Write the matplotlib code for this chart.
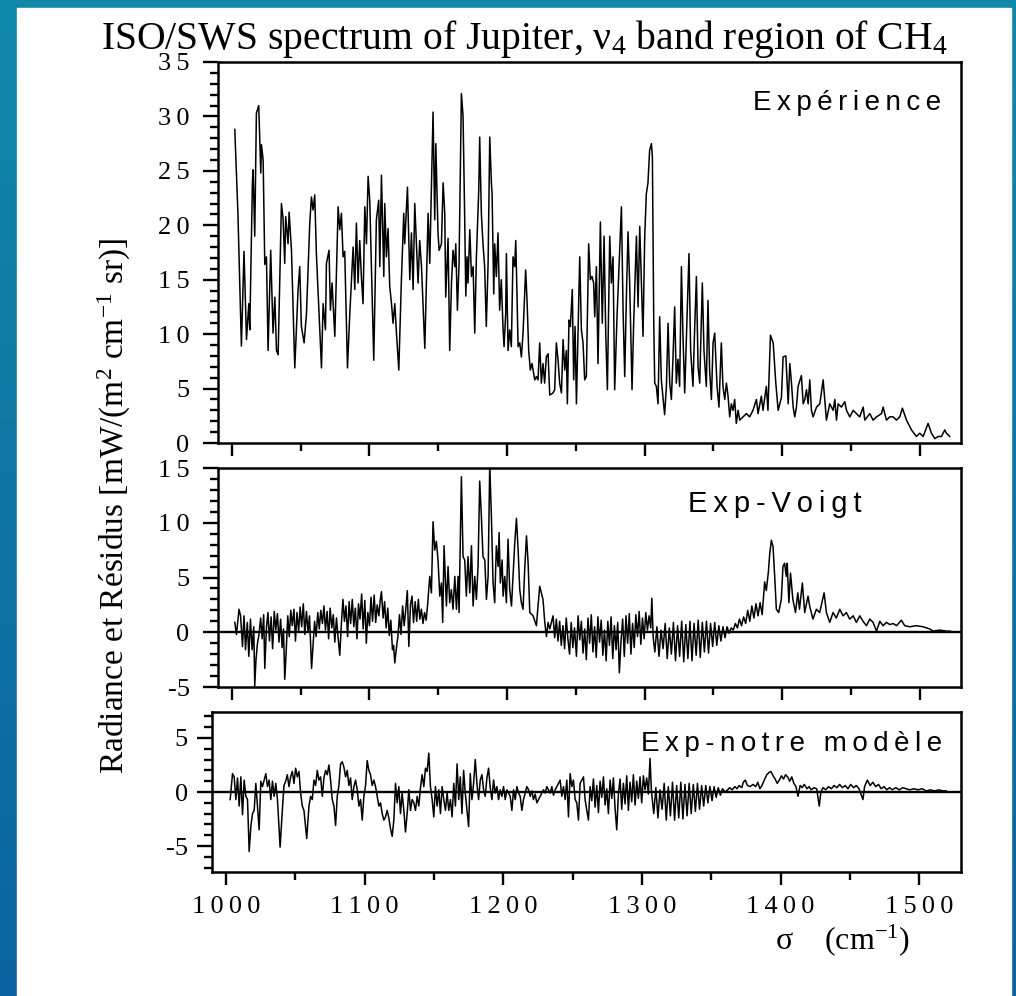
import numpy as np
import matplotlib
matplotlib.use("Agg")
import matplotlib.pyplot as plt
from matplotlib.patches import Rectangle
from matplotlib.colors import LinearSegmentedColormap
from matplotlib.ticker import MultipleLocator, FixedLocator, FixedFormatter

plt.rcParams['font.family'] = ['Liberation Serif', 'DejaVu Serif']
plt.rcParams['mathtext.fontset'] = 'custom'
plt.rcParams['mathtext.rm'] = 'Liberation Serif'
plt.rcParams['mathtext.default'] = 'regular'

## donnees : (sigma en cm-1, valeur)
experience = [
    (1002.2, 28.8), (1004.5, 21.0), (1007.0, 8.9), (1008.9, 17.6), (1010.7, 9.5), (1012.4, 12.8),
    (1013.1, 10.4), (1015.0, 23.9), (1015.5, 25.1), (1016.7, 19.0), (1017.9, 30.3), (1019.6, 31.0),
    (1021.1, 24.8), (1021.6, 27.4), (1022.8, 26.0), (1024.0, 16.4), (1025.2, 17.1), (1026.4, 8.5),
    (1028.3, 17.7), (1030.0, 10.1), (1031.3, 13.4), (1032.5, 8.5), (1033.7, 8.1), (1036.1, 22.0),
    (1037.3, 20.6), (1038.5, 16.5), (1039.2, 20.8), (1040.9, 18.3), (1041.7, 21.2), (1043.4, 17.7),
    (1045.8, 6.9), (1048.2, 14.1), (1049.4, 16.2), (1050.6, 10.7), (1052.6, 9.2), (1054.3, 11.9),
    (1056.7, 20.2), (1057.9, 22.6), (1059.1, 21.4), (1060.3, 22.8), (1061.5, 17.4), (1065.2, 6.9),
    (1066.4, 12.8), (1068.1, 10.4), (1068.8, 16.5), (1070.7, 17.7), (1071.7, 12.2), (1072.9, 14.7),
    (1074.9, 9.8), (1077.3, 21.7), (1078.5, 19.6), (1079.7, 21.1), (1080.9, 17.1), (1082.1, 17.6),
    (1084.1, 6.9), (1085.8, 11.9), (1088.2, 18.0), (1089.4, 14.1), (1090.6, 20.2), (1091.8, 14.7),
    (1093.0, 18.6), (1094.2, 15.3), (1095.4, 12.8), (1096.7, 21.7), (1097.9, 18.3), (1099.1, 24.5),
    (1100.3, 22.3), (1103.2, 7.6), (1105.1, 20.5), (1106.8, 22.3), (1107.6, 16.2), (1108.8, 24.6),
    (1110.5, 15.3), (1111.2, 22.0), (1112.4, 17.1), (1113.6, 19.7), (1114.8, 14.4), (1116.1, 12.8),
    (1117.2, 11.0), (1118.5, 12.8), (1119.7, 10.1), (1121.4, 6.7), (1123.3, 15.0), (1125.0, 21.1),
    (1125.7, 18.3), (1127.7, 23.5), (1129.4, 15.0), (1130.6, 19.3), (1131.8, 14.1), (1133.0, 22.0),
    (1134.2, 18.3), (1135.4, 14.7), (1136.6, 18.6), (1137.9, 16.2), (1140.3, 8.7), (1142.7, 21.1),
    (1143.9, 16.5), (1146.3, 30.4), (1147.5, 20.5), (1148.3, 27.5), (1149.9, 19.3), (1150.7, 17.7),
    (1152.4, 18.3), (1153.6, 23.9), (1154.8, 21.1), (1155.5, 13.4), (1157.2, 18.8), (1158.4, 8.5),
    (1159.7, 14.7), (1160.8, 17.7), (1162.1, 16.2), (1162.8, 18.3), (1164.0, 12.2), (1165.2, 16.5),
    (1166.9, 32.1), (1168.1, 30.0), (1169.3, 20.6), (1170.1, 13.5), (1171.0, 17.1), (1171.7, 14.7),
    (1173.0, 19.6), (1174.2, 15.3), (1175.4, 16.2), (1176.6, 10.1), (1177.8, 17.1), (1179.5, 23.2),
    (1180.2, 28.1), (1181.4, 21.1), (1182.6, 18.3), (1183.8, 16.2), (1185.0, 10.7), (1186.3, 16.5),
    (1187.5, 28.1), (1188.7, 23.9), (1189.2, 22.9), (1190.4, 13.7), (1191.1, 18.3), (1192.3, 15.3),
    (1193.5, 19.3), (1194.7, 12.2), (1195.9, 15.0), (1197.2, 10.4), (1197.9, 8.85), (1199.1, 11.9),
    (1199.6, 17.4), (1200.8, 8.5), (1202.0, 10.4), (1203.2, 8.85), (1204.4, 17.1), (1205.6, 16.2),
    (1206.4, 18.6), (1207.3, 13.7), (1208.1, 8.85), (1209.3, 9.2), (1210.5, 7.9), (1211.7, 10.1),
    (1213.6, 15.9), (1214.6, 13.1), (1215.8, 8.5), (1217.0, 6.7), (1218.2, 7.3), (1220.2, 5.8),
    (1221.4, 6.1), (1222.6, 5.8), (1223.8, 9.2), (1225.0, 5.5), (1226.2, 7.3), (1227.4, 5.5),
    (1228.6, 7.9), (1229.9, 8.2), (1231.1, 4.4), (1233.5, 4.6), (1234.7, 4.9), (1235.9, 9.2),
    (1237.1, 7.7), (1238.3, 5.5), (1239.6, 4.6), (1240.8, 9.5), (1242.0, 6.7), (1243.2, 8.5),
    (1243.9, 3.6), (1245.1, 11.3), (1246.1, 10.7), (1247.5, 14.1), (1248.5, 5.8), (1249.5, 10.7),
    (1250.5, 3.6), (1251.7, 10.4), (1252.9, 17.1), (1254.1, 10.4), (1255.3, 9.2), (1256.5, 5.8),
    (1257.7, 6.1), (1259.4, 18.3), (1260.6, 15.0), (1261.8, 15.3), (1263.0, 14.7), (1263.8, 11.6),
    (1265.0, 16.2), (1266.2, 7.3), (1267.9, 20.3), (1269.3, 11.0), (1270.6, 19.0), (1271.8, 10.1),
    (1273.0, 4.9), (1274.7, 19.0), (1275.9, 14.7), (1277.1, 17.1), (1278.3, 4.9), (1280.0, 11.6),
    (1281.2, 15.3), (1283.2, 21.7), (1284.4, 12.2), (1285.6, 6.1), (1286.8, 13.4), (1288.0, 19.4),
    (1289.2, 14.7), (1290.9, 4.9), (1292.1, 11.0), (1294.1, 19.0), (1295.3, 12.5), (1296.5, 19.9),
    (1297.7, 14.7), (1298.9, 9.8), (1300.1, 18.8), (1301.3, 22.9), (1302.5, 23.9), (1303.7, 26.9),
    (1305.0, 27.5), (1305.7, 26.3), (1306.7, 11.0), (1307.4, 5.5), (1308.6, 5.2), (1309.8, 3.6),
    (1311.0, 11.6), (1312.2, 5.8), (1313.4, 4.2), (1314.6, 2.6), (1315.9, 5.2), (1317.1, 11.0),
    (1318.3, 5.5), (1319.5, 4.0), (1320.7, 7.9), (1321.9, 12.5), (1323.1, 5.5), (1324.3, 7.7),
    (1325.5, 5.2), (1326.8, 16.2), (1328.0, 9.5), (1329.2, 4.6), (1330.4, 9.5), (1332.3, 17.4),
    (1333.5, 8.5), (1335.2, 5.2), (1336.4, 10.4), (1337.7, 15.3), (1338.9, 7.0), (1340.1, 5.5),
    (1342.0, 14.7), (1343.2, 8.5), (1344.9, 5.2), (1346.1, 13.1), (1347.3, 6.7), (1348.6, 4.0),
    (1349.8, 9.2), (1351.0, 10.1), (1352.7, 5.2), (1354.1, 3.3), (1355.8, 9.2), (1357.0, 5.2),
    (1358.3, 4.0), (1359.5, 5.5), (1360.7, 4.3), (1361.9, 2.4), (1363.1, 3.6), (1364.3, 3.0),
    (1365.5, 4.0), (1366.7, 1.8), (1368.0, 3.0), (1369.2, 2.1), (1371.6, 2.4), (1374.0, 2.7),
    (1376.4, 2.4), (1378.8, 3.0), (1381.3, 4.0), (1382.5, 2.7), (1384.9, 4.3), (1386.1, 3.0),
    (1388.5, 5.2), (1389.7, 3.0), (1391.5, 9.9), (1393.5, 9.2), (1395.4, 5.5), (1397.1, 3.0),
    (1399.5, 4.2), (1400.7, 7.9), (1402.7, 8.0), (1404.4, 3.6), (1405.6, 7.3), (1406.8, 5.5),
    (1408.0, 3.3), (1409.2, 2.4), (1410.4, 3.3), (1411.6, 5.2), (1414.0, 6.2), (1415.3, 3.6),
    (1416.5, 4.0), (1417.7, 4.9), (1418.9, 3.6), (1420.1, 5.8), (1421.3, 3.0), (1422.5, 2.4),
    (1425.0, 3.3), (1427.4, 3.6), (1429.8, 5.8), (1431.0, 4.0), (1432.2, 2.1), (1434.6, 3.6),
    (1437.1, 3.0), (1438.3, 4.0), (1439.5, 2.1), (1440.7, 3.6), (1443.1, 3.3), (1445.5, 3.8),
    (1446.8, 3.0), (1449.2, 2.4), (1451.6, 3.0), (1454.0, 2.7), (1456.4, 2.4), (1458.9, 3.3),
    (1460.1, 2.1), (1463.7, 2.7), (1466.1, 2.1), (1468.6, 2.4), (1472.2, 2.7), (1473.4, 3.3),
    (1475.8, 2.1), (1478.2, 2.4), (1480.7, 2.4), (1483.1, 2.1), (1485.5, 2.4), (1487.4, 3.2),
    (1490.4, 2.1), (1494.0, 1.2), (1497.6, 0.6), (1500.0, 0.9), (1502.5, 0.6), (1506.1, 1.8),
    (1508.5, 0.9), (1511.0, 0.4), (1513.4, 0.6), (1515.8, 0.6), (1518.2, 1.2), (1519.4, 0.9),
    (1521.8, 0.6),
]

exp_voigt = [
    (1002.2, 0.9), (1003.4, -0.2), (1004.6, 1.2), (1005.3, 2.1), (1006.4, 1.5), (1007.8, -1.3),
    (1008.9, 1.5), (1010.0, -1.6), (1011.3, 0.9), (1012.4, -2.2), (1013.6, 1.2), (1014.8, -1.6),
    (1016.0, 0.5), (1016.7, -4.9), (1017.6, -2.5), (1018.7, -1.0), (1019.8, -0.2), (1021.0, 1.3),
    (1022.1, -0.6), (1023.2, 1.6), (1024.0, -3.3), (1025.2, 0.4), (1026.3, 1.8), (1027.4, -0.8),
    (1028.6, 1.4), (1029.7, -1.5), (1030.9, 1.9), (1032.0, 0.2), (1033.2, 1.7), (1034.3, -0.9),
    (1035.5, 1.2), (1036.6, -1.4), (1037.6, 0.3), (1038.5, -4.3), (1039.5, -1.9), (1040.7, 1.5),
    (1041.8, -0.4), (1042.9, 2.0), (1044.0, 0.6), (1045.2, 2.1), (1046.3, -0.8), (1047.4, 1.8),
    (1048.6, 0.1), (1049.7, 2.3), (1050.8, 0.5), (1052.0, 2.6), (1053.1, -0.2), (1054.3, 1.9),
    (1055.4, 0.0), (1056.5, 1.5), (1058.0, -3.3), (1059.1, -1.2), (1060.2, 1.0), (1061.3, -0.4),
    (1062.5, 1.8), (1063.6, 0.3), (1064.7, 2.0), (1065.9, 0.8), (1067.0, 2.4), (1068.1, 0.2),
    (1069.3, 1.9), (1070.4, -0.6), (1071.5, 2.2), (1072.7, 0.4), (1073.8, 1.6), (1074.9, -0.9),
    (1076.1, 1.3), (1077.3, -0.5), (1078.5, -2.1), (1079.6, 0.6), (1080.8, 3.0), (1081.9, 1.0),
    (1083.0, 2.4), (1084.2, -0.4), (1085.3, 2.8), (1086.4, 0.8), (1087.6, 3.0), (1088.7, 0.5),
    (1089.8, 2.2), (1091.0, -0.6), (1092.1, 2.6), (1093.2, 1.2), (1094.4, 3.5), (1095.5, 0.3),
    (1096.7, 2.9), (1097.8, -1.0), (1098.9, 1.8), (1100.1, 0.6), (1101.2, 3.2), (1102.3, 1.0),
    (1103.5, 3.4), (1104.6, 0.9), (1105.7, 2.5), (1106.9, 1.5), (1108.0, 3.0), (1108.8, 3.7),
    (1110.0, 1.3), (1111.1, 2.8), (1112.2, 0.4), (1113.4, 2.2), (1114.5, -0.3), (1115.6, 1.1),
    (1116.8, -1.6), (1117.6, -1.2), (1118.5, -2.8), (1119.6, -1.5), (1120.8, -0.3), (1121.9, 1.6),
    (1123.0, -0.2), (1124.2, 2.4), (1125.3, 0.6), (1126.4, 2.0), (1127.6, 3.8), (1128.7, -1.3),
    (1129.9, 2.5), (1131.0, 3.3), (1132.1, 0.9), (1133.3, 2.8), (1134.4, 1.0), (1135.6, 3.0),
    (1136.7, 1.2), (1137.8, 2.1), (1139.0, 0.8), (1140.1, 1.8), (1141.3, 1.1), (1142.4, 2.6),
    (1143.9, 5.1), (1145.1, 3.6), (1146.3, 10.1), (1147.5, 7.5), (1148.7, 8.3), (1149.9, 6.6),
    (1151.2, 3.3), (1152.4, 4.5), (1153.3, 0.9), (1154.3, 7.9), (1156.0, 2.4), (1157.2, 6.0),
    (1158.4, 2.7), (1159.6, 3.9), (1160.8, 2.1), (1162.1, 5.1), (1163.3, 2.1), (1164.5, 5.1),
    (1165.2, 1.8), (1166.9, 14.2), (1168.1, 6.9), (1169.3, 6.6), (1170.5, 3.3), (1171.7, 6.9),
    (1173.0, 3.6), (1174.2, 7.9), (1175.4, 2.4), (1176.6, 5.1), (1177.8, 3.0), (1179.0, 6.0),
    (1180.2, 13.8), (1181.4, 10.6), (1182.6, 6.9), (1183.9, 6.6), (1185.1, 3.0), (1186.3, 5.1),
    (1187.5, 15.3), (1188.7, 10.6), (1189.9, 4.5), (1191.1, 2.7), (1192.3, 7.9), (1193.6, 6.0),
    (1194.3, 9.1), (1195.2, 4.5), (1196.5, 6.6), (1197.2, 3.3), (1198.4, 5.1), (1199.6, 2.7),
    (1200.8, 8.5), (1202.0, 3.9), (1203.3, 2.4), (1205.7, 8.2), (1206.9, 10.4), (1208.1, 7.6),
    (1209.3, 3.9), (1210.5, 2.7), (1211.7, 2.1), (1213.0, 6.0), (1214.2, 8.8), (1215.4, 6.3),
    (1216.6, 1.8), (1219.0, 1.5), (1221.4, 0.6), (1223.8, 4.2), (1225.0, 3.6), (1226.2, 3.0),
    (1227.5, 0.9), (1228.7, -0.4), (1229.9, 0.9), (1231.1, 0.3), (1233.5, 1.5),
    (1234.7, -0.5), (1235.9, 1.2), (1237.1, -0.8), (1238.3, 1.0), (1239.5, -1.2), (1240.7, 0.6),
    (1241.9, -1.5), (1243.1, 1.3), (1244.3, -0.6), (1245.5, -2.0), (1246.7, 0.9), (1247.9, -1.4),
    (1249.1, 0.4), (1250.5, -2.2), (1251.7, 1.5), (1252.9, -0.7), (1254.1, 1.0), (1255.3, -1.9),
    (1256.5, 0.3), (1257.7, -2.5), (1258.9, 1.3), (1260.1, -1.0), (1261.3, 1.6), (1262.5, -1.8),
    (1263.7, 0.5), (1264.9, -2.3), (1266.1, 1.4), (1267.3, -0.9), (1268.5, 1.1), (1269.7, -2.1),
    (1270.9, 0.2), (1272.1, -2.6), (1273.3, 1.0), (1274.5, -1.2), (1275.7, 1.4), (1276.9, -2.4),
    (1278.1, 0.6), (1279.3, -1.6), (1280.5, 0.9), (1281.7, -3.7), (1282.9, -0.8), (1284.1, 1.2),
    (1285.3, -2.2), (1286.5, 1.5), (1287.7, -1.0), (1288.9, 1.7), (1290.1, -2.0), (1291.3, 0.8),
    (1292.5, -1.4), (1293.7, 1.6), (1294.9, -0.4), (1296.1, 1.9), (1297.3, -1.1), (1298.5, 1.3),
    (1299.7, -0.6), (1300.9, 1.8), (1302.1, 0.2), (1303.3, 1.5), (1304.5, 0.4), (1305.3, 3.1),
    (1306.3, -0.5), (1307.5, -1.8), (1309.0, 0.5), (1310.5, -2.2), (1312.0, 0.2), (1313.5, -1.5),
    (1315.0, 0.8), (1316.5, -2.4), (1318.0, 0.4), (1319.5, -2.0), (1321.0, 0.9), (1322.5, -2.6),
    (1324.0, 0.6), (1325.5, -2.2), (1327.0, 1.0), (1328.5, -2.7), (1330.0, 0.7), (1331.5, -2.4),
    (1333.0, 1.0), (1334.5, -2.6), (1336.0, 0.8), (1337.5, -2.1), (1339.0, 1.1), (1340.5, -2.3),
    (1342.0, 0.9), (1343.5, -1.8), (1345.0, 1.0), (1346.5, -1.9), (1348.0, 0.8), (1349.5, -1.3),
    (1351.0, 0.9), (1352.5, -1.2), (1354.0, 0.6), (1355.5, -0.8), (1357.0, 0.5), (1358.5, -0.5),
    (1360.0, 0.5), (1361.5, -0.1), (1363.0, 0.4), (1364.5, 0.2), (1366.0, 0.8), (1367.5, 0.4),
    (1369.0, 1.2), (1370.5, 0.6), (1372.0, 1.4), (1373.5, 0.8), (1375.0, 2.0), (1376.5, 1.0),
    (1378.0, 2.4), (1379.5, 1.3), (1381.0, 2.6), (1382.5, 1.5), (1384.0, 2.7), (1385.5, 1.6),
    (1387.3, 4.6), (1388.5, 3.8), (1390.0, 5.5), (1391.0, 7.2), (1392.2, 8.4), (1393.4, 7.8),
    (1394.6, 5.1), (1395.8, 2.1), (1397.5, 1.8), (1399.4, 3.0), (1400.6, 6.0), (1401.8, 6.3),
    (1403.0, 5.1), (1403.7, 6.3), (1404.9, 2.7), (1406.1, 5.4), (1407.8, 3.0), (1409.7, 1.8),
    (1411.4, 3.6), (1412.6, 2.1), (1414.7, 4.5), (1416.4, 1.8), (1418.8, 3.3), (1420.0, 2.4),
    (1422.4, 1.2), (1424.9, 2.1), (1427.3, 1.8), (1430.5, 3.6), (1432.2, 1.8), (1434.6, 0.9),
    (1437.0, 1.8), (1439.4, 1.3), (1441.9, 2.1), (1444.3, 1.5), (1446.7, 1.8), (1449.1, 1.2),
    (1451.6, 1.5), (1454.0, 0.9), (1456.4, 1.5), (1458.8, 1.0), (1461.3, 0.6), (1463.7, 1.2),
    (1466.1, 0.9), (1468.6, 0.1), (1471.0, 1.0), (1473.4, 0.6), (1475.8, 0.9), (1478.3, 0.7),
    (1480.7, 0.8), (1483.1, 0.6), (1486.7, 1.1), (1489.1, 0.6), (1492.7, 0.5), (1497.6, 0.6),
    (1502.4, 0.5), (1507.3, 0.3), (1509.7, 0.1), (1514.5, 0.2), (1519.4, 0.1), (1522.3, 0.1),
]

exp_modele = [
    (1003.1, -0.7), (1004.8, 1.7), (1006.0, 1.4), (1007.2, -0.7), (1008.4, 1.3), (1009.6, -1.3),
    (1010.8, 1.4), (1012.0, -2.1), (1013.2, 1.1), (1014.4, -0.4), (1015.6, -0.7), (1016.8, -5.5),
    (1018.0, -3.2), (1019.2, -2.0), (1020.4, -1.7), (1021.6, 0.8), (1022.8, -1.3), (1024.0, -3.5),
    (1025.2, 1.0), (1026.4, 0.5), (1027.6, 1.1), (1028.8, 1.7), (1030.0, 0.5), (1031.2, 1.1),
    (1032.4, -0.7), (1033.6, 1.0), (1034.8, -0.4), (1036.0, 0.8), (1037.2, -0.7), (1039.1, -5.1),
    (1040.7, -1.7), (1041.9, 0.6), (1043.1, 1.0), (1044.3, 1.6), (1045.5, 0.5), (1046.7, 1.4),
    (1047.9, 1.9), (1049.1, 0.8), (1050.3, 2.2), (1051.5, 1.4), (1052.7, 1.9), (1053.9, -0.1),
    (1055.1, -1.3), (1056.3, -1.7), (1058.3, -4.3), (1059.9, -1.3), (1061.1, -0.4), (1062.3, -0.7),
    (1063.5, 1.1), (1064.7, 0.6), (1065.9, 2.0), (1067.1, 1.1), (1068.3, 1.4), (1069.5, -0.4),
    (1070.7, 1.3), (1071.9, 2.0), (1073.1, 1.6), (1074.3, 2.5), (1075.5, 1.1), (1076.7, -0.7),
    (1077.9, -1.3), (1079.1, -3.1), (1080.3, -0.4), (1081.5, 0.6), (1082.7, 2.6), (1083.9, 2.8),
    (1085.1, 2.3), (1086.3, 1.4), (1087.5, 2.0), (1088.7, 0.6), (1089.9, 1.3), (1091.1, -0.7),
    (1092.3, 0.5), (1093.5, 1.1), (1094.7, 0.2), (1095.9, -1.3), (1097.1, -0.7), (1098.3, -2.6),
    (1099.5, -0.4), (1100.7, 0.6), (1101.9, 2.9), (1103.1, 2.0), (1104.3, 1.6), (1105.5, 0.6),
    (1106.7, 1.1), (1107.9, 0.5), (1109.1, -0.4), (1110.3, -1.3), (1111.5, -1.0), (1112.7, -2.0),
    (1113.9, -2.6), (1115.1, -2.3), (1116.3, -1.7), (1117.5, -2.4), (1118.7, -3.4), (1119.9, -4.1),
    (1121.1, -2.6), (1122.3, 0.8), (1123.5, -1.0), (1124.7, 0.5), (1125.9, -2.0), (1127.1, -0.1),
    (1128.3, -1.7), (1129.5, -3.7), (1130.7, -2.0), (1131.9, 0.2), (1133.1, -1.7), (1134.3, -0.7),
    (1135.5, -1.0), (1136.7, -1.7), (1137.9, -0.4), (1139.1, -1.3), (1140.3, 0.4), (1141.5, 1.6),
    (1142.7, 0.5), (1143.9, 2.2), (1145.1, 1.9), (1146.3, 3.6), (1147.5, 0.5), (1148.7, -0.7),
    (1149.9, -2.3), (1151.1, 0.5), (1152.3, -1.3), (1153.5, 0.2), (1154.7, -2.0), (1155.9, 0.5),
    (1157.1, -0.7), (1158.3, -1.7), (1159.5, -0.1), (1160.7, -1.7), (1161.9, -0.7), (1163.1, -2.3),
    (1164.3, 0.8), (1165.5, -1.3), (1166.7, 2.6), (1167.9, -0.7), (1169.0, 1.4), (1170.2, -2.0),
    (1171.4, 2.0), (1172.6, -0.1), (1173.8, -1.7), (1175.0, -3.2), (1176.2, 1.7), (1177.4, -0.7),
    (1178.6, 0.8), (1179.8, 3.0), (1181.0, 0.8), (1182.2, -0.7), (1183.4, 1.1), (1184.6, 1.6),
    (1185.8, 0.2), (1187.0, -0.4), (1188.2, 1.3), (1189.4, 2.2), (1190.6, 0.4), (1191.8, -0.7),
    (1193.0, 1.1), (1194.2, -0.1), (1195.4, 0.5), (1196.6, -0.7), (1197.8, 0.2), (1199.0, -0.4),
    (1200.2, 0.5), (1201.4, -0.7), (1202.6, 0.2), (1203.8, -0.1), (1205.0, -0.4), (1206.2, -1.7),
    (1207.4, 0.2), (1208.6, -0.7), (1209.8, 0.5), (1211.0, -0.1), (1212.2, -0.4), (1213.4, -1.7),
    (1214.6, -0.7), (1215.8, -0.1), (1217.0, 0.5), (1218.2, 0.2), (1219.4, -0.4), (1220.6, 0.1),
    (1221.8, -0.7), (1223.0, -0.2), (1224.2, -1.0), (1225.4, -0.7), (1226.6, -0.4), (1229.0, 0.2),
    (1230.2, -0.1), (1231.4, 0.5), (1232.6, 0.2), (1233.8, -0.1), (1235.0, 0.5), (1236.2, -0.3),
    (1237.4, 0.2), (1238.6, 0.5), (1239.8, 0.8), (1241.0, 1.1), (1242.2, -0.4), (1243.4, 0.5),
    (1244.6, -0.7), (1245.8, 1.1), (1247.0, -2.3), (1248.2, 1.7), (1249.4, 0.5), (1250.6, 1.1),
    (1251.8, -0.7), (1253.0, -1.0), (1254.2, -2.6), (1255.4, 0.8), (1256.6, 1.1), (1257.8, 1.4),
    (1259.0, -0.7), (1260.2, -1.7), (1261.4, -2.6), (1262.6, 0.5), (1263.8, -0.8), (1265.0, 1.2),
    (1266.2, -1.4), (1267.4, 0.6), (1268.6, -1.9), (1269.8, 1.0), (1271.0, -0.5), (1272.2, 1.4),
    (1273.4, -1.2), (1274.6, 0.3), (1275.8, -2.0), (1277.0, 1.1), (1278.2, -0.6), (1279.4, 1.3),
    (1280.6, -1.5), (1281.8, -3.5), (1283.0, -0.2), (1284.2, 1.2), (1285.4, -1.6), (1286.6, 0.8),
    (1287.8, -1.1), (1289.0, 1.5), (1290.2, -1.7), (1291.4, 0.9), (1292.6, -0.9), (1293.8, 1.6),
    (1295.0, -1.2), (1296.2, 1.0), (1297.4, -0.6), (1298.6, 1.4), (1299.8, -1.0), (1301.0, 1.5),
    (1302.2, 0.2), (1303.4, 1.3), (1304.6, -0.2), (1305.8, 3.1), (1306.8, 0.1), (1308.5, -2.0),
    (1310.0, 0.4), (1311.5, -2.4), (1313.0, 0.2), (1314.5, -1.6), (1316.0, 0.8), (1317.5, -2.6),
    (1319.0, 0.5), (1320.5, -2.2), (1322.0, 0.9), (1323.5, -2.6), (1325.0, 0.6), (1326.5, -2.4),
    (1328.0, 0.9), (1329.5, -2.5), (1331.0, 0.7), (1332.5, -2.2), (1334.0, 0.8), (1335.5, -2.0),
    (1337.0, 0.7), (1338.5, -1.8), (1340.0, 0.8), (1341.5, -1.6), (1343.0, 0.6), (1344.5, -1.3),
    (1346.0, 0.6), (1347.5, -1.0), (1349.0, 0.5), (1350.5, -0.8), (1352.0, 0.5), (1353.5, -0.5),
    (1355.0, 0.4), (1356.5, -0.3), (1358.0, 0.3), (1360.0, 0.0), (1361.8, 0.2), (1363.2, 0.4),
    (1365.0, 0.2), (1367.0, 0.5), (1368.5, 0.3), (1370.0, 0.6), (1372.0, 0.4), (1373.0, 0.9),
    (1374.5, 1.1), (1376.0, 0.6), (1378.0, 0.5), (1380.0, 0.7), (1382.0, 0.5), (1383.5, 0.9),
    (1385.0, 0.3), (1386.5, 0.6), (1388.5, 1.2), (1390.0, 1.6), (1391.5, 1.8), (1393.0, 1.9),
    (1394.5, 1.5), (1396.0, 1.2), (1397.5, 0.8), (1399.0, 1.1), (1400.5, 1.5), (1402.0, 1.2),
    (1403.5, 1.6), (1405.0, 1.4), (1406.5, 1.0), (1408.0, 1.4), (1409.5, 0.8), (1411.0, 0.5),
    (1412.5, -0.4), (1414.0, 0.6), (1415.5, 0.4), (1417.0, 0.7), (1419.0, 0.3), (1420.5, 0.5),
    (1422.0, 0.2), (1424.0, 0.4), (1426.0, 0.3), (1427.8, -1.3), (1429.0, 0.0), (1430.5, 0.4),
    (1432.5, 0.2), (1434.5, 0.5), (1436.5, 0.3), (1438.5, 0.6), (1440.5, 0.4), (1442.5, 0.7),
    (1444.5, 0.4), (1446.5, 0.6), (1448.5, 0.3), (1450.5, 0.7), (1452.5, 0.4), (1454.5, 0.6),
    (1456.5, 0.3), (1459.3, -0.7), (1460.5, 0.5), (1462.5, 1.1), (1464.5, 0.6), (1466.5, 0.9),
    (1468.5, 0.5), (1470.5, 0.7), (1472.5, 0.3), (1474.5, 0.5), (1476.5, 0.2), (1478.5, 0.4),
    (1480.5, 0.2), (1483.0, 0.4), (1485.5, 0.2), (1488.0, 0.4), (1490.5, 0.3), (1493.0, 0.2),
    (1496.0, 0.3), (1499.0, 0.2), (1502.0, 0.3), (1505.0, 0.1), (1508.0, 0.2), (1511.0, 0.1),
    (1514.0, 0.2), (1517.0, 0.1), (1519.5, 0.1),
]

xticks = [1000, 1100, 1200, 1300, 1400, 1500]
xtick_labels = ["1000", "1100", "1200", "1300", "1400", "1500"]
yticks_exp = [0, 5, 10, 15, 20, 25, 30, 35]
ylabels_exp = ["0", "5", "10", "15", "20", "25", "30", "35"]
yticks_voigt = [-5, 0, 5, 10, 15]
ylabels_voigt = ["-5", "0", "5", "10", "15"]
yticks_modele = [-5, 0, 5]
ylabels_modele = ["-5", "0", "5"]

W, H = 1016, 996
THIN = "\u2009"


def espace(s, sep=THIN):
    """ecarte les lettres comme dans la figure d'origine"""
    return sep.join(s)


def px(x, y):
    return x / W, 1 - y / H


fig = plt.figure(figsize=(W / 100, H / 100), dpi=100)

# fond de la diapo : bord bleu + zone blanche
bg = fig.add_axes([0, 0, 1, 1], zorder=-10)
cmap = LinearSegmentedColormap.from_list("slide", ["#1189aa", "#0a63a0"])
bg.imshow(np.linspace(0, 1, 200).reshape(-1, 1), cmap=cmap, aspect="auto", extent=[0, 1, 0, 1])
bg.add_patch(Rectangle((17 / W, 0), (1011 - 17) / W, (H - 8) / H, color="white"))
bg.set_xlim(0, 1)
bg.set_ylim(0, 1)
bg.axis("off")


def panneau(rect, data, ylim, yticks, ylabels, ypad, zero=False, labels_x=False):
    ax = fig.add_axes(rect)
    arr = np.array(data)
    ax.plot(arr[:, 0], arr[:, 1], color="black", lw=1.1)
    if zero:
        ax.axhline(0, color="black", lw=1.7)
    ax.set_xlim(990, 1530)
    ax.set_ylim(*ylim)
    for s in ax.spines.values():
        s.set_linewidth(1.8)
    ax.xaxis.set_major_locator(FixedLocator(xticks))
    ax.xaxis.set_minor_locator(MultipleLocator(50))
    ax.yaxis.set_major_locator(FixedLocator(yticks))
    ax.yaxis.set_major_formatter(FixedFormatter([espace(t) if t[0] != "-" else t for t in ylabels]))
    ax.yaxis.set_minor_locator(MultipleLocator(1))
    ax.tick_params(which="both", direction="out", top=False, right=False, width=1.7)
    ax.tick_params(axis="y", which="major", length=10.5, pad=ypad, labelsize=19)
    ax.tick_params(axis="y", which="minor", length=5.5)
    ax.tick_params(axis="x", which="major", length=9)
    ax.tick_params(axis="x", which="minor", length=5.5)
    if labels_x:
        ax.set_xticklabels([espace(t) for t in xtick_labels], fontsize=19)
        ax.tick_params(axis="x", which="major", pad=8)
    else:
        ax.tick_params(axis="x", labelbottom=False)
    return ax


ax1 = panneau([218 / W, 1 - 443 / H, 743 / W, 381 / H], experience, (0, 35), yticks_exp, ylabels_exp, 10)
ax2 = panneau([218 / W, 1 - 687 / H, 743 / W, 219 / H], exp_voigt, (-5, 15), yticks_voigt, ylabels_voigt,
              10, zero=True)
ax3 = panneau([212 / W, 1 - 872 / H, 749 / W, 160 / H], exp_modele, (-7.4, 7.4), yticks_modele,
              ylabels_modele, 7, zero=True, labels_x=True)

# titres des panneaux
sans = ["Liberation Sans", "DejaVu Sans"]
fig.text(*px(941, 110), espace("Expérience"), family=sans, fontsize=20, ha="right", va="baseline")
fig.text(*px(775, 512), espace("Exp-Voigt"), family=sans, fontsize=21, ha="center", va="baseline")
fig.text(*px(942, 751), espace("Exp-notre modèle"), family=sans, fontsize=20, ha="right", va="baseline")

fig.text(*px(524, 49), "ISO/SWS spectrum of Jupiter, ν$_4$ band region of CH$_4$", fontsize=28.5,
         ha="center", va="baseline")
fig.text(*px(114, 506), "Radiance et Résidus [mW/(m$^{2}$ cm$^{-1}$ sr)]", fontsize=24,
         rotation=90, ha="center", va="center")
fig.text(*px(843, 940), "σ    (cm$^{-1}$)", fontsize=23, ha="center", va="center")

fig.savefig("out.png", dpi=100)
